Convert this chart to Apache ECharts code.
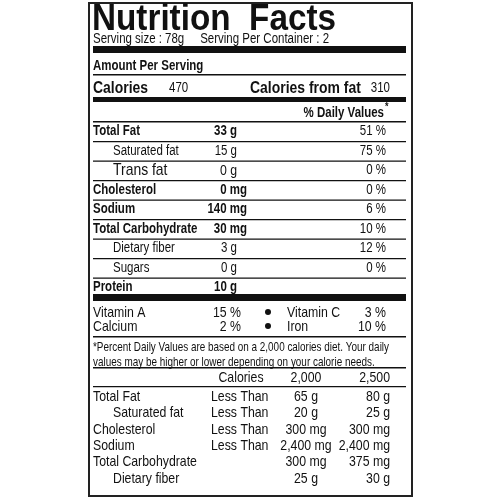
<!DOCTYPE html><html><head><meta charset="utf-8">
<script src="https://cdn.jsdelivr.net/npm/echarts@6/dist/echarts.min.js"></script>
<style>html,body{margin:0;background:#fff}#c{width:500px;height:500px}</style></head><body><div id="c"></div>
<script>
const title = "Nutrition  Facts";
const serving = "Serving size : 78g     Serving Per Container : 2";
const calories = 470, caloriesFromFat = 310;
const nutrients = ["Total Fat","Saturated fat","Trans fat","Cholesterol","Sodium","Total Carbohydrate","Dietary fiber","Sugars","Protein"];
const amounts = ["33 g","15 g","0 g","0 mg","140 mg","30 mg","3 g","0 g","10 g"];
const dailyPct = ["51 %","75 %","0 %","0 %","6 %","10 %","12 %","0 %",""];
const isSub = [false,true,true,false,false,false,true,true,false];
const vitaminsL = [["Vitamin A","15 %"],["Calcium","2 %"]];
const vitaminsR = [["Vitamin C","3 %"],["Iron","10 %"]];
const footnote = ["*Percent Daily Values are based on a 2,000 calories diet. Your daily","values may be higher or lower depending on your calorie needs."];
const refHeader = ["Calories","2,000","2,500"];
const refNames = ["Total Fat","Saturated fat","Cholesterol","Sodium","Total Carbohydrate","Dietary fiber"];
const refSub = [false,true,false,false,false,true];
const refLimit = ["Less Than","Less Than","Less Than","Less Than","",""];
const ref2000 = ["65 g","20 g","300 mg","2,400 mg","300 mg","25 g"];
const ref2500 = ["80 g","25 g","300 mg","2,400 mg","375 mg","30 g"];

const F = "'Liberation Sans',Arial,sans-serif";
const SX = 0.82;
const g = [];
const L = 93, R = 406;
const cv = document.createElement('canvas').getContext('2d');
function font(size,bold){ return (bold?'bold ':'')+size+'px '+F; }
function txt(t, x, y, size, bold, align, sx){
  g.push({type:'text', x:x, y:y, scaleX:sx||SX, style:{text:t, x:0, y:0, font:font(size,bold), fill:'#111', align:align||'left', verticalAlign:'middle'}});
}
function fit(t,size,bold,w){ cv.font = font(size,bold); return w/cv.measureText(t).width; }
function bar(y,h){ g.push({type:'rect', shape:{x:L,y:y,width:R-L,height:h}, style:{fill:'#111'}}); }
g.push({type:'rect', shape:{x:89,y:3,width:323,height:493}, style:{fill:'none',stroke:'#222',lineWidth:2}});
txt(title, L-1, 20, 36, true, 'left', fit(title,36,true,244));
txt(serving, L, 39, 14, false);
bar(46,7);
txt("Amount Per Serving", L, 66, 14, true);
bar(74,1.5);
txt("Calories", L, 88, 17, true); txt(String(calories), 169, 88, 14, false);
txt("Calories from fat", 250, 88, 17, true); txt(String(caloriesFromFat), 390, 88, 14, false, 'right');
bar(97,5);
txt("% Daily Values", 384, 113, 14, true, 'right'); txt("*", 385, 107, 11, true);
bar(121,1.5);
const rh = 19.5;
nutrients.forEach((n,i)=>{
  const y = 131.5 + i*rh;
  const sub = isSub[i];
  const size = n==="Trans fat" ? 17 : 14;
  txt(n, sub?113:L, y, size, !sub);
  txt(amounts[i], amounts[i].indexOf('mg')>0 ? 247 : 237, y, size===17?15:14, !sub, 'right');
  if (dailyPct[i]) txt(dailyPct[i], 386, y, 14, false, 'right');
  if (i < nutrients.length-1) bar(141 + i*rh, 1.2);
});
bar(294,7);
vitaminsL.forEach((v,i)=>{
  const y = 313 + i*14;
  txt(v[0], L, y, 15, false); txt(v[1], 241, y, 15, false, 'right');
  g.push({type:'circle', shape:{cx:268, cy:y-1, r:3}, style:{fill:'#111'}});
  txt(vitaminsR[i][0], 287, y, 15, false); txt(vitaminsR[i][1], 386, y, 15, false, 'right');
});
bar(336,1.5);
footnote.forEach((f,i)=>txt(f, L, 347+i*15, 13, false, 'left', i===0 ? fit(f,13,false,296) : fit(footnote[0],13,false,296)));
bar(367,1.5);
txt(refHeader[0], 241, 378, 15, false, 'center');
txt(refHeader[1], 306, 378, 15, false, 'center');
txt(refHeader[2], 390, 378, 15, false, 'right');
bar(386,1.2);
refNames.forEach((n,i)=>{
  const y = 397 + i*16.3;
  txt(n, refSub[i]?113:L, y, 15, false);
  if (refLimit[i]) txt(refLimit[i], 211, y, 15, false);
  txt(ref2000[i], 306, y, 15, false, 'center');
  txt(ref2500[i], 390, y, 15, false, 'right');
});
const chart = echarts.init(document.getElementById('c'));
chart.setOption({animation:false, graphic:{elements:g}});
</script></body></html>
